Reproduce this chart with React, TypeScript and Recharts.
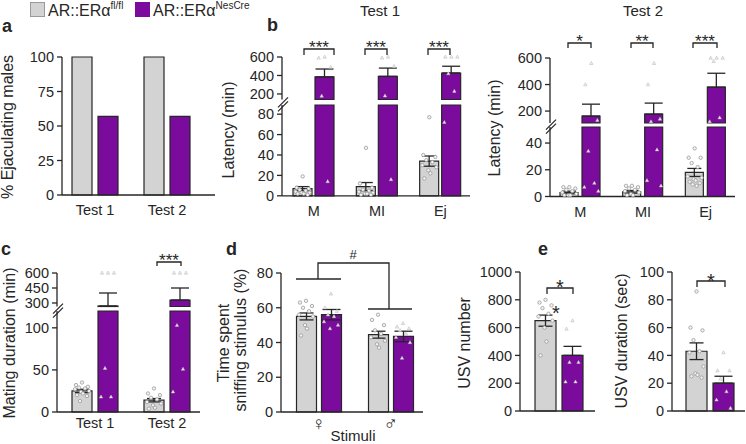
import React from 'react';
import { ComposedChart, Bar, XAxis, YAxis, ErrorBar, Scatter } from 'recharts';

const GRAY = '#d3d3d3';
const PURPLE = '#7a0b9c';
const INK = '#262626';
const FONT = '"Liberation Sans", Arial, "DejaVu Sans", sans-serif';

// a - % ejaculating males
const testCats = ['Test 1', 'Test 2'];
const ejacFl = [100, 100];
const ejacNes = [57, 57];
const noSem = [0, 0];

// b - latencies (min), test 1
const behavCats = ['M', 'MI', 'Ej'];
const lat1Fl = [7, 9, 34];
const lat1FlSem = [2, 4, 5];
const lat1Nes = [384, 390, 427];
const lat1NesSem = [86, 90, 73];
const lat1FlPts = [
  [19, 8, 7, 6, 5, 4, 3, 3, 2, 2, 1],
  [47, 12, 8, 6, 5, 4, 3, 2, 2, 1, 1],
  [77, 40, 38, 35, 33, 30, 28, 25, 22, 17],
];
const lat1NesPts = [
  [600, 590, 490, 178, 14],
  [600, 590, 500, 180, 16],
  [600, 600, 600, 420, 230, 72],
];

// b - latencies (min), test 2
const lat2Fl = [3, 3.5, 18];
const lat2FlSem = [1, 1, 3];
const lat2Nes = [162, 177, 380];
const lat2NesSem = [90, 83, 105];
const lat2FlPts = [
  [7, 7, 6, 5, 4, 3, 2, 1, 1, 1],
  [8, 8, 7, 6, 5, 4, 3, 2, 1, 1],
  [36, 29, 29, 25, 22, 15, 14, 13, 12, 11, 10, 9, 8],
];
const lat2NesPts = [
  [560, 400, 130, 34, 10, 7, 4],
  [560, 400, 140, 120, 35, 12, 8],
  [600, 600, 600, 575, 150, 120],
];

// c - mating duration (min)
const durFl = [25, 14];
const durFlSem = [2, 2];
const durNes = [270, 330];
const durNesSem = [130, 120];
const durFlPts = [
  [35, 32, 30, 29, 28, 27, 25, 24, 22, 20, 19, 13],
  [28, 22, 20, 17, 15, 12, 10, 8, 5, 4],
];
const durNesPts = [
  [600, 600, 600, 52, 18, 18],
  [600, 600, 600, 103, 51, 24],
];

// d - sniffing (%)
const stimCats = ['♀', '♂'];
const sniffFl = [55, 44.5];
const sniffFlSem = [2, 2];
const sniffNes = [56, 43.5];
const sniffNesSem = [3, 3];
const sniffFlPts = [
  [64, 63, 61, 60, 58, 56, 55, 50, 48, 44],
  [56, 53, 50, 47, 45, 43, 41, 39, 37],
];
const sniffNesPts = [
  [68, 60, 58, 56, 55, 52, 50, 48],
  [51, 49, 48, 47, 45, 43, 40, 31],
];

// e - USVs
const usvCats = [''];
const usvNumFl = [650];
const usvNumFlSem = [40];
const usvNumNes = [400];
const usvNumNesSem = [65];
const usvNumFlPts = [[800, 780, 760, 740, 700, 680, 650, 600, 500, 400]];
const usvNumNesPts = [[650, 590, 350, 350, 210, 210]];
const usvDurFl = [43];
const usvDurFlSem = [6];
const usvDurNes = [20];
const usvDurNesSem = [5];
const usvDurFlPts = [[86, 60, 58, 51, 43, 42, 32, 27, 26, 25, 24]];
const usvDurNesPts = [[42, 29, 29, 23, 14, 8, 2]];

// horizontal spread of the dots inside a bar (px)
const SPREAD = [0, -6, 6, -3, 3, -7, 7, -1, 1, -5, 5, -2, 2];

type SegProps = {
  x: number; y: number; w: number; h: number;
  cats: string[];
  fl: number[]; flSem: number[]; nes: number[]; nesSem: number[];
  flPts?: number[][]; nesPts?: number[][];
  lo: number; hi: number; ticks: number[];
  axisX?: boolean; catLabels?: boolean; tm?: number; catSize?: number;
  pad: [number, number]; barW: number; gap: number;
  bothSides?: boolean;
};

const dot = (p: any) => (
  <circle cx={p.cx} cy={p.cy} r={1.7} fill="#f4f4f4" stroke="#8f8f8f" strokeWidth={0.7} />
);
const tri = (p: any) => (
  <path d={`M${p.cx},${p.cy - 1.9}L${p.cx + 1.7},${p.cy + 1.2}L${p.cx - 1.7},${p.cy + 1.2}Z`}
    fill="#efefef" stroke="#b4b4b4" strokeWidth={0.5} />
);

function BarSeg(s: SegProps) {
  const n = s.cats.length;
  const band = (s.w - s.pad[0] - s.pad[1]) / n;
  const data = s.cats.map((c, i) => {
    const f = s.fl[i];
    const p = s.nes[i];
    return {
      cat: c,
      f: f >= s.lo ? Math.min(f, s.hi) : null,
      fe: f >= s.lo && f <= s.hi && s.flSem[i] ? [s.flSem[i], s.flSem[i]] : null,
      p: p >= s.lo ? Math.min(p, s.hi) : null,
      pe: p >= s.lo && p <= s.hi && s.nesSem[i] ? [s.bothSides ? s.nesSem[i] : 0, s.nesSem[i]] : null,
    };
  });
  const pts = (groups: number[][] | undefined, side: number) => {
    const out: { x: number; y: number }[] = [];
    (groups || []).forEach((g, i) =>
      g.forEach((v, j) => {
        if (v < s.lo || v > s.hi) return;
        const dx = (side * (s.barW + s.gap)) / 2 + SPREAD[j % SPREAD.length];
        out.push({ x: i + 0.5 + dx / band, y: v });
      })
    );
    return out;
  };
  const flDots = pts(s.flPts, -1);
  const nesDots = pts(s.nesPts, 1);
  const YW = 50, MT = 10, MR = 6;
  const XH = s.axisX ? 32 : 0;
  const MB = s.axisX ? 0 : 9;
  const tickStyle = { fill: INK, fontSize: 14.5, fontFamily: FONT };
  const catStyle = { ...tickStyle, fontSize: s.catSize ?? 14.5 };
  return (
    <div style={{ position: 'absolute', left: s.x - YW, top: s.y - MT }}>
      <ComposedChart width={YW + s.w + MR} height={MT + s.h + XH + MB} data={data}
        margin={{ top: MT, right: MR, bottom: MB, left: 0 }} barGap={s.gap}>
        <XAxis xAxisId="c" dataKey="cat" hide={!s.axisX} height={XH}
          padding={{ left: s.pad[0], right: s.pad[1] }}
          axisLine={{ stroke: INK, strokeWidth: 1.3 }} tickLine={false} tickSize={4} tickMargin={s.tm ?? 6}
          tick={s.catLabels === false ? false : catStyle} interval={0} />
        <XAxis xAxisId="n" type="number" dataKey="x" domain={[0, n]} hide
          padding={{ left: s.pad[0], right: s.pad[1] }} />
        <YAxis width={YW} domain={[s.lo, s.hi]} ticks={s.ticks} interval={0}
          axisLine={{ stroke: INK, strokeWidth: 1.3 }} tickLine={{ stroke: INK, strokeWidth: 1.3 }}
          tickSize={5} tickMargin={3} tick={tickStyle} />
        <Bar xAxisId="c" dataKey="f" barSize={s.barW} fill={GRAY} stroke={INK} strokeWidth={1.2} isAnimationActive={false}>
          <ErrorBar dataKey="fe" width={7} stroke={INK} strokeWidth={1.3} direction="y" />
        </Bar>
        <Bar xAxisId="c" dataKey="p" barSize={s.barW} fill={PURPLE} stroke={INK} strokeWidth={1.2} isAnimationActive={false}>
          <ErrorBar dataKey="pe" width={9} stroke={INK} strokeWidth={1.3} direction="y" />
        </Bar>
        {flDots.length > 0 && (
          <Scatter xAxisId="n" data={flDots} dataKey="y" shape={dot} isAnimationActive={false} />
        )}
        {nesDots.length > 0 && (
          <Scatter xAxisId="n" data={nesDots} dataKey="y" shape={tri} isAnimationActive={false} />
        )}
      </ComposedChart>
    </div>
  );
}

const txt = { fontFamily: FONT, fill: INK } as const;

function VLabel({ x, y, children, size = 16 }: { x: number; y: number; children: React.ReactNode; size?: number }) {
  return (
    <text transform={`translate(${x},${y}) rotate(-90)`} textAnchor="middle" fontSize={size} style={txt}>
      {children}
    </text>
  );
}

function Bracket({ x1, x2, y, legs = 5, label, ly, size = 17 }: { x1: number; x2: number; y: number; legs?: number; label: string; ly: number; size?: number }) {
  return (
    <g>
      <path d={`M${x1},${y + legs}V${y}H${x2}V${y + legs}`} fill="none" stroke={INK} strokeWidth={1.3} />
      <text x={(x1 + x2) / 2} y={ly} textAnchor="middle" fontSize={size} style={txt}>{label}</text>
    </g>
  );
}

function Break({ ax, gy }: { ax: number; gy: number }) {
  return (
    <g stroke={INK} strokeWidth={1.2}>
      <line x1={ax - 4} y1={gy + 5} x2={ax + 6} y2={gy - 5} />
      <line x1={ax - 4} y1={gy + 9} x2={ax + 6} y2={gy - 1} />
    </g>
  );
}

export default function App() {
  return (
    <div style={{ position: 'absolute', left: 0, top: 0, width: 746, height: 444, overflow: 'hidden', background: '#fff' }}>
      {/* a */}
      <BarSeg x={62} y={57} w={153} h={138} cats={testCats} fl={ejacFl} flSem={noSem} nes={ejacNes} nesSem={noSem}
        lo={0} hi={100} ticks={[0, 25, 50, 75, 100]} axisX pad={[-3, 12]} barW={20} gap={6} tm={6} />

      {/* b, test 1 */}
      <BarSeg x={282} y={57} w={188} h={42.5} cats={behavCats} fl={lat1Fl} flSem={lat1FlSem} nes={lat1Nes} nesSem={lat1NesSem}
        flPts={lat1FlPts} nesPts={lat1NesPts} lo={140} hi={600} ticks={[200, 400, 600]} pad={[0, -2]} barW={19} gap={3} />
      <BarSeg x={282} y={105.2} w={188} h={90.8} cats={behavCats} fl={lat1Fl} flSem={lat1FlSem} nes={lat1Nes} nesSem={lat1NesSem}
        flPts={lat1FlPts} nesPts={lat1NesPts} lo={0} hi={89} ticks={[0, 20, 40, 60, 80]} axisX pad={[0, -2]} barW={19} gap={3} tm={6} />

      {/* b, test 2 */}
      <BarSeg x={550} y={58} w={185} h={65} cats={behavCats} fl={lat2Fl} flSem={lat2FlSem} nes={lat2Nes} nesSem={lat2NesSem}
        flPts={lat2FlPts} nesPts={lat2NesPts} lo={110} hi={600} ticks={[200, 400, 600]} pad={[-1, -2]} barW={18} gap={4} />
      <BarSeg x={550} y={126.5} w={185} h={69.5} cats={behavCats} fl={lat2Fl} flSem={lat2FlSem} nes={lat2Nes} nesSem={lat2NesSem}
        flPts={lat2FlPts} nesPts={lat2NesPts} lo={0} hi={52} ticks={[0, 20, 40]} axisX pad={[-1, -2]} barW={18} gap={4} tm={6} />

      {/* c */}
      <BarSeg x={57} y={273} w={143} h={33.5} cats={testCats} fl={durFl} flSem={durFlSem} nes={durNes} nesSem={durNesSem}
        flPts={durFlPts} nesPts={durNesPts} lo={265} hi={600} ticks={[300, 450, 600]} pad={[2, -3]} barW={20} gap={6} />
      <BarSeg x={57} y={311} w={143} h={101} cats={testCats} fl={durFl} flSem={durFlSem} nes={durNes} nesSem={durNesSem}
        flPts={durFlPts} nesPts={durNesPts} lo={0} hi={120} ticks={[0, 50, 100]} axisX pad={[2, -3]} barW={20} gap={6} tm={2} />

      {/* d */}
      <BarSeg x={281} y={273} w={142} h={139} cats={stimCats} fl={sniffFl} flSem={sniffFlSem} nes={sniffNes} nesSem={sniffNesSem}
        flPts={sniffFlPts} nesPts={sniffNesPts} lo={0} hi={80} ticks={[0, 20, 40, 60, 80]} axisX pad={[1.5, -3.5]} barW={20} gap={5}
        tm={1} catSize={19} bothSides />

      {/* e */}
      <BarSeg x={520} y={272} w={75} h={139} cats={usvCats} fl={usvNumFl} flSem={usvNumFlSem} nes={usvNumNes} nesSem={usvNumNesSem}
        flPts={usvNumFlPts} nesPts={usvNumNesPts} lo={0} hi={1000} ticks={[0, 200, 400, 600, 800, 1000]} axisX catLabels={false} pad={[3, 0]} barW={21} gap={6} />
      <BarSeg x={672} y={272} w={73} h={139} cats={usvCats} fl={usvDurFl} flSem={usvDurFlSem} nes={usvDurNes} nesSem={usvDurNesSem}
        flPts={usvDurFlPts} nesPts={usvDurNesPts} lo={0} hi={100} ticks={[0, 20, 40, 60, 80, 100]} axisX catLabels={false} pad={[3, 0]} barW={21} gap={6} />

      <svg width={746} height={444} style={{ position: 'absolute', left: 0, top: 0, pointerEvents: 'none' }}>
        {/* legend */}
        <rect x={30.5} y={2.5} width={14} height={14} fill={GRAY} stroke="#9a9a9a" />
        <text x={48} y={16} fontSize={16} style={txt}>AR::ERα<tspan dy={-7} fontSize={10}>fl/fl</tspan></text>
        <rect x={135} y={2} width={15} height={15} fill={PURPLE} />
        <text x={153} y={16} fontSize={16} style={txt}>AR::ERα<tspan dy={-7} fontSize={10}>NesCre</tspan></text>

        {/* panel letters */}
        <text x={2} y={32} fontSize={18} fontWeight="bold" style={txt}>a</text>
        <text x={267} y={31} fontSize={18} fontWeight="bold" style={txt}>b</text>
        <text x={1} y={255} fontSize={18} fontWeight="bold" style={txt}>c</text>
        <text x={226} y={255} fontSize={18} fontWeight="bold" style={txt}>d</text>
        <text x={538} y={255} fontSize={18} fontWeight="bold" style={txt}>e</text>

        {/* titles */}
        <text x={380} y={16} fontSize={15} textAnchor="middle" style={txt}>Test 1</text>
        <text x={643} y={16} fontSize={15} textAnchor="middle" style={txt}>Test 2</text>

        {/* axis titles */}
        <VLabel x={13} y={127}>% Ejaculating males</VLabel>
        <VLabel x={234} y={130}>Latency (min)</VLabel>
        <VLabel x={500} y={128}>Latency (min)</VLabel>
        <VLabel x={15} y={343}>Mating duration (min)</VLabel>
        <VLabel x={229} y={343}>Time spent</VLabel>
        <VLabel x={246} y={340}>sniffing stimulus (%)</VLabel>
        <VLabel x={470} y={343}>USV number</VLabel>
        <VLabel x={627} y={341}>USV duration (sec)</VLabel>
        <text x={353} y={441} fontSize={15} textAnchor="middle" style={txt}>Stimuli</text>

        {/* axis breaks */}
        <Break ax={282} gy={102.3} />
        <Break ax={550} gy={124.7} />
        <Break ax={57} gy={308.7} />

        {/* significance */}
        <Bracket x1={304} x2={334} y={49} legs={6} label="***" ly={53} />
        <Bracket x1={365} x2={387} y={49} legs={6} label="***" ly={53} />
        <Bracket x1={428} x2={450} y={49} legs={6} label="***" ly={53} />
        <Bracket x1={568} x2={591} y={43} legs={5} label="*" ly={47} />
        <Bracket x1={631} x2={653} y={43} legs={5} label="**" ly={47} />
        <Bracket x1={693} x2={717} y={43} legs={5} label="***" ly={47} />
        <Bracket x1={157} x2={181} y={262} legs={4} label="***" ly={266} />
        <Bracket x1={547} x2={573} y={288} legs={6} label="*" ly={294} size={20} />
        <text x={556} y={320} fontSize={20} textAnchor="middle" style={txt}>*</text>
        <Bracket x1={697} x2={725} y={281} legs={6} label="*" ly={288} size={20} />

        {/* d: sex effect */}
        <g stroke={INK} strokeWidth={1.3} fill="none">
          <line x1={296} y1={279} x2={341} y2={279} />
          <line x1={368} y1={309} x2={412} y2={309} />
          <path d="M318,279V263H389V309" />
        </g>
        <text x={353} y={259} fontSize={13} textAnchor="middle" style={txt}>#</text>
      </svg>
    </div>
  );
}
